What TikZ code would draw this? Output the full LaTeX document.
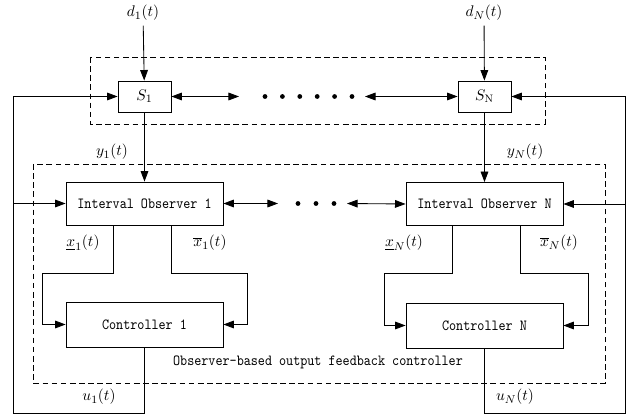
\documentclass[tikz,border=0pt]{standalone}
\usepackage{fontspec}
\usetikzlibrary{arrows.meta}
\newfontfamily\blkfamily[FakeStretch=0.87]{Latin Modern Mono}
\newcommand\blkfont{\blkfamily\fontsize{11}{13}\selectfont}
\tikzset{
  blk/.style={draw, line width=0.6pt, inner sep=0pt, font=\blkfont},
  sysblk/.style={blk, minimum width=1.325cm, minimum height=0.775cm},
  obsblk/.style={blk, minimum width=3.925cm, minimum height=1.075cm},
  ctlblk/.style={blk, minimum width=3.925cm, minimum height=1.125cm},
  lbl/.style={font=\fontsize{11}{13}\selectfont},
  sig/.style={line width=0.6pt, -{Triangle[length=7.5pt,width=5.5pt]}},
  bisig/.style={line width=0.6pt, {Triangle[length=7.5pt,width=5.5pt]}-{Triangle[length=7.5pt,width=5.5pt]}},
  grp/.style={draw, line width=0.6pt, dash pattern=on 4pt off 2.5pt},
  dot/.style={circle, fill, inner sep=0pt, minimum size=3.4pt}
}
\begin{document}
\begin{tikzpicture}[x=0.025cm, y=-0.025cm]
\useasboundingbox (0,0) rectangle (632,418);
% groups
\draw[grp] (90,57) rectangle (545,124);
\draw[grp] (33,164) rectangle (605,383);
% nodes
\node[sysblk] (S1) at (144.5,96.5) {\normalfont\fontsize{11}{13}\selectfont$S_{1}$};
\node[sysblk] (SN) at (484.5,96.5) {\normalfont\fontsize{11}{13}\selectfont$S_{\mathrm{N}}$};
\node[obsblk] (O1) at (144.5,203.5) {Interval Observer 1};
\node[obsblk] (ON) at (484.5,204) {Interval Observer N};
\node[ctlblk] (C1) at (144.5,324.5) {Controller 1};
\node[ctlblk] (CN) at (484.5,325.5) {Controller N};
\node[lbl] (d1) at (143,13) {$d_{1}(t)$};
\node[lbl] (dN) at (484,13) {$d_{N}(t)$};
\node[lbl] at (112,152) {$y_{1}(t)$};
\node[lbl] at (525,152) {$y_{N}(t)$};
\node[lbl] at (83,243) {$\underline{x}_{1}(t)$};
\node[lbl] at (210,243) {$\overline{x}_{1}(t)$};
\node[lbl] at (404,243) {$\underline{x}_{N}(t)$};
\node[lbl] at (559,243) {$\overline{x}_{N}(t)$};
\node[lbl] at (99,397) {$u_{1}(t)$};
\node[lbl] at (515,397) {$u_{N}(t)$};
\node[font=\blkfont] at (318,362) {Observer-based output feedback controller};
% dots
\foreach \k in {0,...,5}
  \node[dot] (sd\k) at (265+17.4*\k,96.5) {};
\foreach \k in {0,1,2}
  \node[dot] (od\k) at (298+18*\k,203.5) {};
% corner points
\coordinate (sl) at (239,96.5);
\coordinate (sr) at (365,96.5);
\coordinate (ol) at (278,203.5);
\coordinate (or) at (347,203.5);
\coordinate (a1) at (113,273);
\coordinate (b1) at (42,273);
\coordinate (c1) at (171,273);
\coordinate (e1) at (247,273);
\coordinate (aN) at (452,273);
\coordinate (bN) at (384,273);
\coordinate (cN) at (520,273);
\coordinate (eN) at (588,273);
\coordinate (f1) at (13,413);
\coordinate (fN) at (625,413);
% arrows
\draw[sig] (d1) -- (S1);
\draw[sig] (dN) -- (SN);
\draw[sig] (S1) -- (O1);
\draw[sig] (SN) -- (ON);
\draw[bisig] (S1.east) -- (sl);
\draw[bisig] (sr) -- (SN.west);
\draw[bisig] (O1.east) -- (ol);
\draw[bisig] (or) -- (ON.west);
\draw[sig] (a1 |- O1.south) -- (a1) -- (b1) |- (C1.west);
\draw[sig] (c1 |- O1.south) -- (c1) -- (e1) |- (C1.east);
\draw[sig] (aN |- ON.south) -- (aN) -- (bN) |- (CN.west);
\draw[sig] (cN |- ON.south) -- (cN) -- (eN) |- (CN.east);
% feedback
\draw[sig] (C1.south) |- (f1) |- (S1.west);
\draw[sig] (f1 |- O1.west) -- (O1.west);
\draw[sig] (CN.south) |- (fN) |- (SN.east);
\draw[sig] (fN |- ON.east) -- (ON.east);
\end{tikzpicture}
\end{document}
